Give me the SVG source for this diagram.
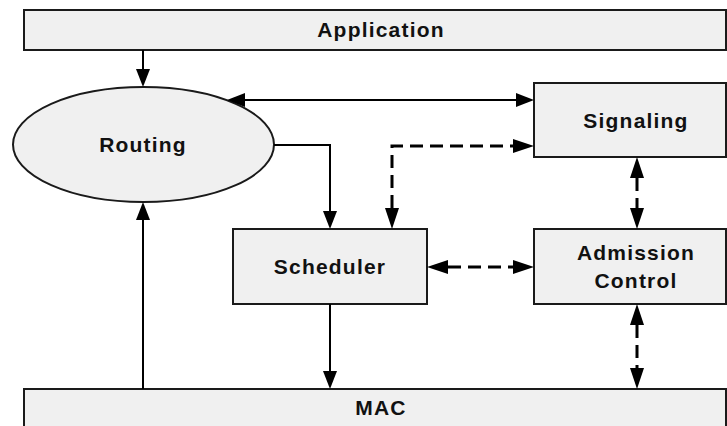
<svg xmlns="http://www.w3.org/2000/svg" width="727" height="426" viewBox="0 0 727 426">
  <style>
    .box { fill: #f0f0f0; stroke: #1a1a1a; stroke-width: 2; }
    .lbl { font-family: "Liberation Sans", Arial, sans-serif; font-weight: bold; font-size: 21px; letter-spacing: 1.2px; fill: #111; text-anchor: middle; }
    .solid { fill: none; stroke: #000; stroke-width: 2; }
    .dash { fill: none; stroke: #000; stroke-width: 3; stroke-dasharray: 13 7; }
  </style>
  <defs>
    <marker id="arr" viewBox="0 0 18 14" markerWidth="18" markerHeight="14" refX="0" refY="7" markerUnits="userSpaceOnUse" orient="auto-start-reverse">
      <path d="M0,0 L18,7 L0,14 z" fill="#000"/>
    </marker>
    <marker id="arrD" viewBox="0 0 21 14" markerWidth="21" markerHeight="14" refX="0" refY="7" markerUnits="userSpaceOnUse" orient="auto-start-reverse">
      <path d="M0,0 L21,7 L0,14 z" fill="#000"/>
    </marker>
  </defs>
  <rect width="727" height="426" fill="#fff"/>

  <g id="application">
    <rect class="box" x="24" y="10" width="702" height="40"/>
    <text class="lbl" x="381" y="37">Application</text>
  </g>
  <g id="routing">
    <ellipse class="box" cx="143.5" cy="144.5" rx="130.5" ry="57.5"/>
    <text class="lbl" x="143" y="152">Routing</text>
  </g>
  <g id="signaling">
    <rect class="box" x="534" y="83" width="192" height="74"/>
    <text class="lbl" x="636" y="128">Signaling</text>
  </g>
  <g id="scheduler">
    <rect class="box" x="233" y="229" width="194" height="75"/>
    <text class="lbl" x="330" y="274">Scheduler</text>
  </g>
  <g id="admission-control">
    <rect class="box" x="534" y="229" width="192" height="75"/>
    <text class="lbl" x="636" y="260">Admission</text>
    <text class="lbl" x="636" y="288">Control</text>
  </g>
  <g id="mac">
    <rect class="box" x="24" y="389" width="702" height="50"/>
    <text class="lbl" x="381" y="415">MAC</text>
  </g>

  <g id="connectors">
    <path class="solid" d="M143,50 V69" marker-end="url(#arr)"/>
    <path class="solid" d="M143,389 V220" marker-end="url(#arr)"/>
    <path class="solid" d="M245,100 H516" marker-start="url(#arr)" marker-end="url(#arr)"/>
    <path class="solid" d="M274,145 H330 V211" marker-end="url(#arr)"/>
    <path class="solid" d="M330,304 V371" marker-end="url(#arr)"/>
    <path class="dash" d="M392,208 V146 H513" marker-start="url(#arrD)" marker-end="url(#arrD)"/>
    <path class="dash" d="M448,267 H513" marker-start="url(#arrD)" marker-end="url(#arrD)"/>
    <path class="dash" d="M637,178 V208" marker-start="url(#arrD)" marker-end="url(#arrD)"/>
    <path class="dash" d="M637,325 V368" marker-start="url(#arrD)" marker-end="url(#arrD)"/>
  </g>
</svg>
